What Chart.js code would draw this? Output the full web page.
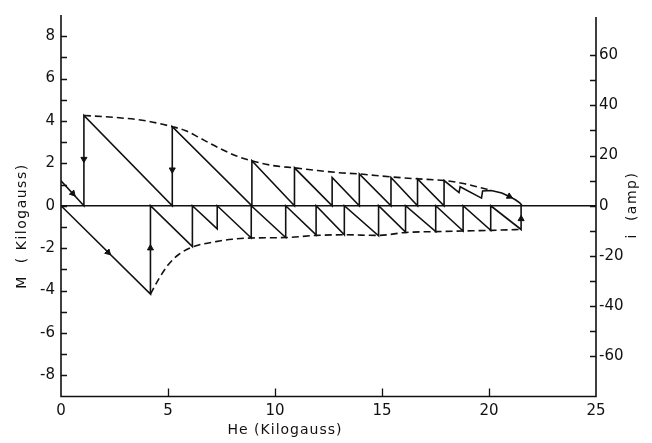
<!DOCTYPE html>
<html>
<head>
<meta charset="utf-8">
<script src="https://cdn.jsdelivr.net/npm/chart.js@4/dist/chart.umd.min.js"></script>
<style>
  html, body { margin: 0; padding: 0; background: #fff; }
  #wrap { width: 652px; height: 443px; }
</style>
</head>
<body>
<div id="wrap"><canvas id="c" width="652" height="443"></canvas></div>
<script>
// Magnetization M (kG) against applied field He (kG): upper sawtooth branch
const upperHe = [0, 1.07, 1.07, 5.2, 5.2, 8.92, 8.92, 10.91, 10.91, 12.67, 12.67, 13.94, 13.94,
                 15.42, 15.42, 16.66, 16.66, 17.9, 17.9, 18.6, 18.65, 19.65, 19.7, 20.1, 20.6,
                 20.95, 21.25, 21.45, 21.55];
const upperM  = [1.18, 0, 4.26, 0, 3.73, 0, 2.12, 0, 1.79, 0, 1.33, 0, 1.5,
                 0, 1.33, 0, 1.26, 0, 1.19, 0.62, 0.9, 0.36, 0.7, 0.72, 0.6,
                 0.44, 0.27, 0.12, 0];

// lower sawtooth branch
const lowerHe = [0, 4.18, 4.18, 6.14, 6.14, 7.3, 7.3, 8.89, 8.89, 10.5, 10.5, 11.92, 11.92,
                 13.24, 13.24, 14.84, 14.84, 16.1, 16.1, 17.51, 17.51, 18.79, 18.79, 20.08, 20.08,
                 21.5, 21.5];
const lowerM  = [0, -4.17, 0, -1.93, 0, -1.09, 0, -1.52, 0, -1.5, 0, -1.37, 0,
                 -1.37, 0, -1.42, 0, -1.24, 0, -1.22, 0, -1.19, 0, -1.16, 0,
                 -1.12, 0];

// dashed envelopes
const upperEnvHe = [1.07, 2.5, 4.0, 5.2, 5.8, 6.4, 7.0, 7.6, 8.2, 8.92, 10.0, 10.91, 12.0,
                    13.0, 13.94, 15.42, 16.66, 17.9, 18.8, 19.5, 20.1];
const upperEnvM  = [4.26, 4.17, 4.0, 3.73, 3.55, 3.25, 2.92, 2.62, 2.35, 2.12, 1.88, 1.79, 1.66,
                    1.56, 1.5, 1.36, 1.27, 1.19, 1.05, 0.88, 0.73];
const lowerEnvHe = [4.18, 4.35, 4.6, 5.0, 5.5, 6.14, 7.3, 8.0, 8.89, 10.5, 11.92, 13.24, 14.84,
                    16.1, 17.51, 18.79, 20.08, 21.5];
const lowerEnvM  = [-4.17, -3.85, -3.4, -2.8, -2.3, -1.95, -1.68, -1.58, -1.52, -1.5, -1.4, -1.37, -1.4,
                    -1.26, -1.22, -1.19, -1.16, -1.12];

// direction arrows along the loop (angle in degrees, 0 = pointing up, clockwise)
const arrowHe    = [0.55, 1.07, 5.2, 2.2, 4.18, 21.5, 20.95];
const arrowM     = [0.58, 2.2, 1.7, -2.2, -2.0, -0.62, 0.44];
const arrowAngle = [138, 180, 180, 135, 0, 0, 117];

// axis ticks
const heTickLabels = [0, 5, 10, 15, 20, 25];
const mTickLabels  = [-8, -6, -4, -2, 0, 2, 4, 6, 8];
const iTickLabels  = [-60, -40, -20, 0, 20, 40, 60];

const INK = '#111111';
const FONT = "'DejaVu Sans', sans-serif";

const pts = (xs, ys) => xs.map((x, k) => ({ x, y: ys[k] }));

// axis lines, inward tick marks and axis titles
const frame = {
  id: 'frame',
  afterDraw(chart) {
    const { ctx, chartArea: a, scales } = chart;
    ctx.save();
    ctx.strokeStyle = INK;
    ctx.lineWidth = 1.6;
    ctx.beginPath();
    ctx.moveTo(a.left, a.top);
    ctx.lineTo(a.left, a.bottom);
    ctx.lineTo(a.right, a.bottom);
    ctx.lineTo(a.right, a.top + 2);
    ctx.stroke();

    ctx.lineWidth = 1.3;
    ctx.beginPath();
    scales.x.ticks.forEach(t => {
      if (t.value <= scales.x.min || t.value >= scales.x.max) return;
      const px = Math.round(scales.x.getPixelForValue(t.value)) + 0.5;
      ctx.moveTo(px, a.bottom);
      ctx.lineTo(px, a.bottom - 8);
    });
    scales.y.ticks.forEach(t => {
      if (Math.abs(t.value) > 8) return;
      const py = Math.round(scales.y.getPixelForValue(t.value)) + 0.5;
      ctx.moveTo(a.left, py);
      ctx.lineTo(a.left + 6, py);
    });
    scales.y2.ticks.forEach(t => {
      if (Math.abs(t.value) > 60) return;
      const py = Math.round(scales.y2.getPixelForValue(t.value)) + 0.5;
      ctx.moveTo(a.right, py);
      ctx.lineTo(a.right - 6, py);
    });
    ctx.stroke();

    ctx.fillStyle = INK;
    ctx.font = '14px ' + FONT;
    ctx.textAlign = 'center';
    ctx.textBaseline = 'middle';
    ctx.letterSpacing = '1px';
    ctx.fillText('He (Kilogauss)', 285, 430);

    ctx.save();
    ctx.translate(22, 226);
    ctx.rotate(-Math.PI / 2);
    ctx.letterSpacing = '1.5px';
    ctx.fillText('M  ( Kilogauss)', 0, 0);
    ctx.restore();

    ctx.save();
    ctx.translate(632, 205);
    ctx.rotate(-Math.PI / 2);
    ctx.letterSpacing = '1.5px';
    ctx.fillText('i  (amp)', 0, 0);
    ctx.restore();

    ctx.restore();
  }
};

const solid = { borderColor: INK, borderWidth: 1.6, pointRadius: 0, showLine: true, tension: 0, yAxisID: 'y' };
const dashed = { borderColor: INK, borderWidth: 1.6, borderDash: [7, 4], pointRadius: 0, showLine: true,
                 cubicInterpolationMode: 'monotone', yAxisID: 'y' };

new Chart(document.getElementById('c'), {
  type: 'scatter',
  data: {
    datasets: [
      { ...solid, data: [{ x: 0, y: 0 }, { x: 25, y: 0 }], borderWidth: 1.3 },
      { ...solid, data: pts(upperHe, upperM) },
      { ...solid, data: pts(lowerHe, lowerM) },
      { ...dashed, data: pts(upperEnvHe, upperEnvM) },
      { ...dashed, data: pts(lowerEnvHe, lowerEnvM) },
      {
        data: pts(arrowHe, arrowM), yAxisID: 'y', showLine: false,
        pointStyle: 'triangle', pointRadius: 3.5, pointRotation: arrowAngle,
        backgroundColor: INK, borderColor: INK, borderWidth: 1
      }
    ]
  },
  options: {
    responsive: false,
    animation: false,
    devicePixelRatio: 1,
    events: [],
    layout: { padding: { top: 7.5, left: 0, right: 0, bottom: 0 } },
    plugins: { legend: { display: false }, tooltip: { enabled: false } },
    scales: {
      x: {
        type: 'linear', min: 0, max: 25,
        grid: { display: false, drawTicks: false }, border: { display: false },
        ticks: {
          stepSize: 5, padding: 6, color: INK, font: { family: FONT, size: 15 },
          callback: v => heTickLabels.includes(v) ? String(v) : ''
        },
        afterFit(s) { s.height = 46.5; }
      },
      y: {
        type: 'linear', position: 'left', min: -9, max: 9,
        grid: { display: false, drawTicks: false }, border: { display: false },
        ticks: {
          stepSize: 1, padding: 6, color: INK, font: { family: FONT, size: 15 },
          callback: v => mTickLabels.includes(v) ? String(v) : ''
        },
        afterFit(s) { s.width = 61; }
      },
      y2: {
        type: 'linear', position: 'right', min: -76, max: 76,
        grid: { display: false, drawTicks: false }, border: { display: false },
        ticks: {
          stepSize: 10, includeBounds: false, padding: 3, color: INK, font: { family: FONT, size: 15 },
          callback: v => iTickLabels.includes(v) ? String(v) : ''
        },
        afterFit(s) { s.width = 56; }
      }
    }
  },
  plugins: [frame]
});
</script>
</body>
</html>
